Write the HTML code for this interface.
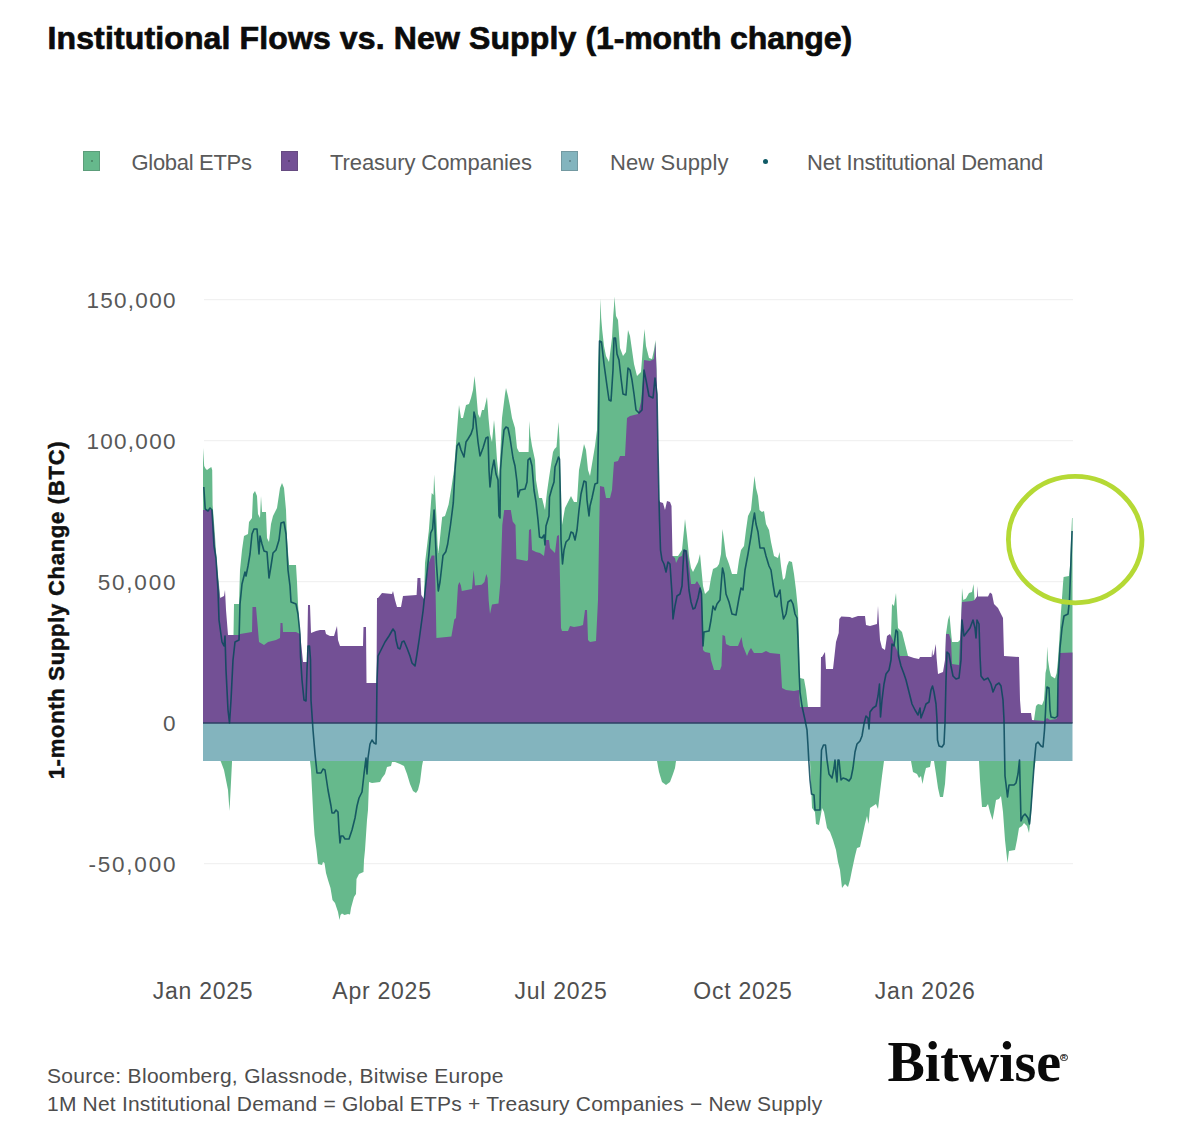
<!DOCTYPE html>
<html><head><meta charset="utf-8">
<style>
html,body{margin:0;padding:0;background:#fff;}
body{width:1200px;height:1125px;position:relative;overflow:hidden;font-family:"Liberation Sans",sans-serif;}
.t{position:absolute;white-space:nowrap;line-height:1;}
.title{left:47.5px;top:22.3px;font-size:32px;font-weight:bold;color:#0b0b0b;letter-spacing:0.05px;-webkit-text-stroke:0.7px #0b0b0b;}
.leg{font-size:22px;color:#5a5a5a;top:151.6px;}
.sq{position:absolute;width:17px;height:20px;top:150.8px;box-sizing:border-box;border:1px solid rgba(60,60,60,0.22);}
.sq i{position:absolute;left:6.5px;top:8px;width:2px;height:2.4px;border-radius:50%;background:rgba(0,0,0,0.28);}
.yl{font-size:22.5px;color:#585858;right:1023.2px;letter-spacing:1.3px;}
.xl{font-size:23px;color:#4f4f4f;top:979.8px;transform:translateX(-50%);letter-spacing:0.75px;}
.ytitle{left:56.8px;top:609.6px;font-size:22px;font-weight:bold;color:#111;transform:translate(-50%,-50%) rotate(-90deg);letter-spacing:0.73px;-webkit-text-stroke:0.5px #111;}
.src{font-size:21px;color:#4d4d4d;left:47px;}
.logo{font-family:"Liberation Serif",serif;font-weight:bold;font-size:56px;left:887.5px;top:1034px;color:#0a0a0a;letter-spacing:-0.1px;}
.reg{position:absolute;left:1060px;top:1053.5px;width:5.5px;height:5.5px;border:1px solid #222;border-radius:50%;font-size:5px;line-height:5.5px;text-align:center;color:#111;font-weight:bold;}
</style></head><body>
<svg width="1200" height="1125" viewBox="0 0 1200 1125" style="position:absolute;left:0;top:0">
<line x1="204" x2="1073" y1="299.7" y2="299.7" stroke="#f1f1f1" stroke-width="1.2"/>
<line x1="204" x2="1073" y1="440.7" y2="440.7" stroke="#f1f1f1" stroke-width="1.2"/>
<line x1="204" x2="1073" y1="581.7" y2="581.7" stroke="#f1f1f1" stroke-width="1.2"/>
<line x1="204" x2="1073" y1="863.7" y2="863.7" stroke="#f1f1f1" stroke-width="1.2"/>
<polygon points="203.0,723.0 203.0,448.0 204.2,466.0 205.5,468.5 207.0,470.0 209.0,468.5 211.3,467.0 212.2,470.0 212.6,505.0 214.6,530.0 216.6,560.0 220.3,598.0 220.3,723.0" fill="#66b98c"/>
<polygon points="233.5,723.0 233.5,635.0 234.0,604.0 239.0,604.0 240.0,570.0 242.0,550.0 244.0,536.0 248.0,534.0 249.0,522.0 252.0,518.0 253.0,494.0 255.0,491.0 257.0,496.0 258.0,514.0 260.0,518.0 261.0,496.0 262.0,512.0 266.0,512.0 267.0,538.0 269.0,542.0 271.0,524.0 273.0,516.0 277.0,508.0 280.0,488.0 282.0,483.0 284.0,488.0 286.0,510.0 287.0,538.0 289.0,565.0 296.0,565.0 297.0,582.0 298.0,604.0 300.0,634.0 300.0,723.0" fill="#66b98c"/>
<polygon points="424.0,723.0 424.0,599.0 425.0,563.0 428.8,531.0 430.7,506.5 431.7,493.0 433.5,495.0 434.1,474.5 434.9,487.7 436.4,516.0 437.6,545.0 438.3,553.0 439.3,545.0 441.0,528.0 442.2,517.0 445.0,516.0 448.6,504.6 451.4,487.7 454.0,470.0 457.0,430.0 459.0,405.0 461.0,418.0 463.0,418.0 466.0,405.0 469.0,404.0 471.0,398.0 473.0,390.0 474.5,376.0 476.0,390.0 478.0,414.0 480.0,418.0 482.0,410.0 484.0,410.0 487.0,397.0 488.5,418.0 490.0,434.0 492.0,442.0 494.0,420.0 495.0,430.0 497.0,460.0 499.0,478.0 500.0,460.0 502.0,418.0 505.0,394.0 506.0,388.0 508.0,396.0 510.0,406.0 512.0,418.0 515.0,428.0 517.0,448.0 519.0,452.0 526.0,452.0 528.6,452.0 529.4,421.0 530.4,436.0 532.0,446.0 535.0,460.0 536.0,480.0 539.0,498.0 542.0,498.0 545.0,510.0 547.0,492.0 549.0,478.0 551.0,465.0 553.0,452.0 554.5,449.0 556.5,447.0 557.5,435.0 558.5,422.0 559.5,440.0 560.3,470.0 561.0,490.0 562.0,525.0 565.0,508.0 566.0,506.0 571.0,496.0 574.0,502.0 577.0,502.0 579.0,470.0 581.0,460.0 584.0,444.0 586.0,450.0 588.0,470.0 590.0,476.0 592.0,464.0 595.0,446.0 597.0,430.0 598.0,370.0 599.3,335.0 600.0,318.0 600.5,298.5 601.2,318.0 602.2,330.0 604.0,346.0 606.0,356.0 609.0,362.0 612.0,338.0 613.3,315.0 614.0,306.0 614.5,296.5 615.2,306.0 616.0,316.0 618.0,320.0 620.0,348.0 623.0,356.0 626.0,352.0 628.0,330.0 630.0,336.0 632.0,350.0 634.0,364.0 637.0,376.0 641.0,372.0 643.0,346.0 644.5,329.0 646.0,346.0 649.0,358.0 652.0,359.0 654.0,350.0 655.5,340.0 656.5,370.0 656.5,723.0" fill="#66b98c"/>
<polygon points="672.0,723.0 672.0,556.0 678.0,556.0 682.0,550.0 684.0,530.0 685.0,519.0 687.0,536.0 689.0,556.0 691.0,568.0 693.0,572.0 696.0,566.0 698.0,562.0 700.0,554.0 701.5,570.0 703.0,586.0 705.0,594.0 709.0,590.0 711.0,578.0 713.0,569.0 717.0,567.0 719.0,564.0 721.0,554.0 722.5,529.0 724.0,540.0 726.0,556.0 729.0,564.0 732.0,574.0 737.0,574.0 739.0,560.0 741.0,550.0 744.0,546.0 746.0,530.0 748.0,516.0 751.0,510.0 753.0,490.0 754.5,476.0 756.0,488.0 758.0,496.0 759.5,510.0 762.0,512.0 764.0,511.0 766.0,524.0 769.0,530.0 771.0,542.0 774.0,556.0 778.0,558.0 779.5,552.0 781.0,566.0 783.0,580.0 785.0,578.0 787.0,566.0 789.0,561.0 792.0,562.0 794.0,574.0 796.0,590.0 798.0,610.0 799.0,640.0 800.0,678.0 804.0,679.0 806.0,690.0 808.0,707.0 808.0,723.0" fill="#66b98c"/>
<polygon points="891.0,723.0 891.0,636.0 892.0,604.0 894.0,606.0 896.0,593.0 898.0,628.0 902.0,632.0 905.0,644.0 908.0,656.0 908.0,723.0" fill="#66b98c"/>
<polygon points="945.5,723.0 945.5,660.0 946.0,634.0 948.0,620.0 949.5,615.0 951.0,632.0 952.0,642.0 958.0,642.0 960.0,640.0 960.0,723.0" fill="#66b98c"/>
<polygon points="961.5,723.0 961.5,610.0 962.0,588.0 963.3,600.0 966.0,598.5 969.0,593.0 972.0,592.0 973.5,584.0 974.6,600.0 974.6,723.0" fill="#66b98c"/>
<polygon points="1034.0,723.0 1034.0,720.0 1036.0,706.0 1038.0,704.0 1042.0,705.0 1044.0,700.0 1044.7,690.0 1045.5,673.0 1046.5,668.0 1047.2,646.5 1048.0,660.0 1049.5,670.0 1051.0,676.0 1055.0,678.5 1056.7,673.0 1058.0,660.0 1059.3,640.0 1060.7,616.0 1062.0,598.0 1063.0,584.0 1063.6,577.0 1069.0,576.0 1070.0,566.0 1071.0,540.0 1072.0,518.0 1072.5,518.0 1072.5,723.0" fill="#66b98c"/>
<polygon points="203.0,723.0 203.0,510.0 212.0,510.0 214.0,530.0 216.0,560.0 220.0,598.0 224.0,596.0 225.0,590.0 226.0,610.0 228.0,635.0 239.0,635.0 240.0,634.0 252.0,632.0 252.5,607.0 256.0,607.0 258.0,630.0 259.0,642.0 264.0,645.0 268.0,642.0 276.0,640.0 280.0,638.0 280.5,623.0 282.5,623.0 283.0,632.0 296.0,632.0 300.0,634.0 301.0,642.0 303.0,662.0 307.0,662.0 308.0,605.0 310.0,605.0 311.0,633.0 316.0,631.0 320.0,630.0 325.0,630.0 326.0,634.0 330.0,636.0 334.0,636.0 337.0,626.0 338.0,640.0 340.0,646.0 363.0,646.0 363.5,627.0 366.0,627.0 366.5,683.0 376.5,683.0 377.0,598.0 378.0,598.0 382.0,593.0 392.0,594.0 393.0,591.0 395.0,600.0 397.0,607.0 401.0,607.0 403.0,596.0 416.6,595.0 417.5,578.0 420.4,578.0 421.3,595.0 424.0,599.0 426.0,582.0 428.8,563.0 431.7,555.5 434.5,555.5 435.4,582.0 436.4,638.0 451.4,636.5 454.3,619.6 456.0,618.0 458.0,585.6 459.4,582.0 460.9,585.6 461.8,591.0 472.0,589.0 473.7,570.0 475.0,585.6 481.6,584.7 484.4,582.0 486.3,574.0 487.6,578.0 488.7,600.7 490.0,614.0 492.0,604.5 498.5,603.5 500.4,582.0 502.3,525.0 504.2,510.0 510.8,510.0 512.7,521.6 515.5,525.0 516.4,559.0 526.8,561.0 528.0,560.0 529.0,530.0 531.0,529.0 532.0,550.0 536.0,552.0 540.0,553.0 544.0,556.0 546.0,540.0 549.0,540.0 550.0,548.0 555.0,553.0 557.0,536.0 559.0,535.0 560.0,580.0 561.0,628.0 562.0,631.0 568.0,631.0 570.0,626.0 574.0,627.0 580.0,626.0 583.0,625.0 585.0,610.0 587.0,610.0 588.0,640.0 590.0,642.0 596.0,641.0 598.0,600.0 599.0,540.0 600.0,486.0 604.0,487.0 606.0,498.0 610.0,498.0 612.0,490.0 614.0,462.0 618.0,461.0 620.0,456.0 625.0,456.0 627.0,418.0 630.0,416.0 638.0,414.0 641.0,402.0 643.0,380.0 644.0,360.0 650.0,361.0 654.0,359.0 655.5,342.0 656.5,370.0 657.0,390.0 658.0,450.0 659.0,500.0 660.0,502.0 663.0,503.0 665.0,510.0 667.0,501.0 670.0,502.0 671.5,506.0 672.5,556.0 675.0,558.0 676.0,563.0 679.0,557.0 682.0,556.0 683.0,550.0 687.0,550.0 689.0,564.0 691.0,584.0 695.0,584.0 697.0,581.0 700.0,586.0 702.0,592.0 703.0,650.0 705.0,652.0 710.0,653.0 711.0,660.0 714.0,670.0 720.0,670.0 721.5,666.0 722.5,635.0 725.0,636.0 726.0,644.0 730.0,646.0 738.0,646.0 740.0,641.0 741.5,637.0 743.0,646.0 747.0,656.0 749.0,651.0 751.0,648.0 754.0,653.0 762.0,653.0 766.0,651.0 770.0,653.0 780.0,654.0 781.0,670.0 782.0,688.0 786.0,690.0 794.0,691.0 799.0,690.0 800.0,707.0 820.5,707.0 821.0,657.0 822.0,657.0 825.0,652.0 826.0,669.0 833.0,669.0 833.8,662.0 836.0,642.0 838.7,633.0 839.3,619.0 841.3,616.5 850.0,617.0 852.0,618.0 858.0,616.0 865.0,616.0 866.0,625.0 870.0,626.0 877.0,624.0 878.0,606.0 879.0,624.0 880.0,640.0 882.0,648.0 885.0,650.0 887.0,636.0 890.0,634.0 892.0,638.0 896.0,648.0 900.0,656.0 908.0,656.0 914.0,658.0 919.0,659.0 920.0,657.0 931.0,657.0 931.6,657.0 932.2,649.0 932.8,656.0 934.0,654.0 935.0,648.0 935.8,644.0 936.6,658.0 938.0,674.0 943.0,672.0 945.0,660.0 946.0,634.0 949.0,634.0 951.0,640.0 952.0,664.0 959.0,665.0 960.0,640.0 961.0,620.0 962.0,602.0 972.0,601.0 974.5,600.0 976.5,597.0 977.0,596.5 977.5,586.0 978.0,596.5 988.0,596.5 990.0,592.5 992.0,594.0 994.0,604.0 998.0,608.0 1001.0,614.0 1003.0,618.0 1004.0,656.0 1019.0,657.0 1020.0,700.0 1021.0,713.0 1031.0,713.0 1032.0,720.0 1044.0,721.0 1047.0,718.0 1050.0,720.0 1056.5,719.0 1057.5,700.0 1058.7,675.0 1060.0,653.0 1072.5,652.5 1072.5,723.0" fill="#735095"/>
<polygon points="220.5,760.0 220.5,761.0 221.0,762.0 224.0,770.0 228.0,790.0 229.5,811.0 231.0,782.0 232.0,762.0 232.0,760.0" fill="#66b98c"/>
<polygon points="310.0,760.0 310.0,761.0 311.0,770.0 313.0,810.0 313.5,820.0 314.5,835.0 316.5,850.0 318.0,864.0 322.0,865.0 323.0,862.0 324.5,863.0 326.0,873.0 328.0,880.0 330.5,888.0 332.5,900.0 335.0,903.0 338.0,912.0 339.5,920.0 340.5,915.0 342.0,913.5 344.5,915.0 348.0,914.0 350.0,914.5 351.0,908.0 354.0,897.0 356.0,894.0 356.5,879.0 359.0,874.0 363.5,872.0 364.0,860.0 365.0,850.0 366.0,835.0 367.0,820.0 368.0,810.0 369.0,782.0 372.0,783.0 380.0,782.0 382.0,778.0 385.0,774.0 387.0,767.0 391.0,766.0 392.0,762.0 395.0,762.0 400.0,764.0 404.0,766.0 407.0,774.0 410.0,784.0 413.0,791.0 416.0,793.0 418.0,790.0 420.0,782.0 422.0,766.0 423.0,761.0 423.0,760.0" fill="#66b98c"/>
<polygon points="657.0,760.0 657.0,761.0 659.0,772.0 662.0,782.0 666.0,785.0 670.0,782.0 673.0,774.0 675.0,768.0 676.0,761.0 676.0,760.0" fill="#66b98c"/>
<polygon points="810.0,760.0 810.0,761.0 811.0,784.0 812.0,808.0 815.0,812.0 816.0,824.0 819.0,825.0 821.0,814.0 822.0,808.0 824.0,812.0 827.0,828.0 830.0,832.0 833.0,840.0 836.0,850.0 838.0,862.0 840.0,870.0 842.0,888.0 845.0,884.0 848.0,887.0 850.0,880.0 852.0,870.0 855.0,856.0 857.0,848.0 860.0,847.0 862.0,838.0 865.0,824.0 867.0,816.0 868.5,824.0 870.0,808.0 876.0,804.0 878.0,809.0 880.0,792.0 882.0,776.0 884.0,761.0 884.0,760.0" fill="#66b98c"/>
<polygon points="911.0,760.0 911.0,761.0 913.0,772.0 917.0,774.0 919.0,778.0 921.0,776.0 922.5,784.0 924.0,776.0 926.0,768.0 930.0,767.0 931.0,761.0 931.0,760.0" fill="#66b98c"/>
<polygon points="934.0,760.0 934.0,761.0 936.0,774.0 938.0,788.0 940.0,797.0 943.0,797.0 945.0,784.0 946.5,762.0 946.5,760.0" fill="#66b98c"/>
<polygon points="979.0,760.0 979.0,761.0 980.0,780.0 982.0,807.0 986.0,807.0 988.0,804.0 990.0,812.0 992.5,820.0 994.0,812.0 996.0,800.0 999.0,799.0 1001.0,796.0 1003.0,812.0 1005.0,840.0 1007.5,863.0 1009.0,851.0 1015.0,850.0 1017.0,840.0 1019.0,828.0 1022.0,826.0 1024.0,823.0 1027.0,826.0 1029.0,833.0 1031.0,816.0 1032.0,800.0 1034.0,770.0 1035.5,761.0 1035.5,760.0" fill="#66b98c"/>
<rect x="203.0" y="723.0" width="869.5" height="38.0" fill="#83b4be"/>
<line x1="203.0" x2="1072.5" y1="723.0" y2="723.0" stroke="#2b3f63" stroke-width="1.4"/>
<polyline points="203.8,487.0 205.2,509.0 208.0,511.0 210.0,508.0 212.0,510.0 214.0,546.0 216.0,558.0 218.0,590.0 219.0,620.0 222.0,642.0 224.0,646.0 225.0,636.0 226.0,670.0 228.0,710.0 229.5,723.0 231.0,700.0 233.0,660.0 235.0,642.0 239.0,640.0 240.0,604.0 242.0,584.0 245.0,572.0 246.0,576.0 248.0,566.0 250.0,554.0 252.0,534.0 254.0,529.0 257.0,529.0 259.0,554.0 260.0,536.0 262.0,544.0 264.0,551.0 267.0,552.0 269.0,578.0 271.0,566.0 273.0,553.0 276.0,550.0 279.0,540.0 281.0,523.0 284.0,522.0 286.0,534.0 288.0,570.0 290.0,586.0 291.0,602.0 296.0,604.0 298.0,614.0 300.0,634.0 300.5,656.0 302.0,680.0 304.0,700.0 306.0,701.0 307.0,670.0 308.0,646.0 309.5,646.0 310.5,660.0 311.0,700.0 313.0,730.0 315.0,754.0 317.0,773.0 321.0,773.0 323.0,769.0 325.0,770.0 328.0,790.0 331.0,806.0 332.0,813.0 334.0,813.0 336.0,810.0 338.0,812.0 339.0,830.0 340.0,843.0 341.0,836.0 343.0,836.0 345.0,839.0 349.0,839.0 352.0,830.0 355.0,818.0 357.0,806.0 359.0,798.0 362.0,792.0 364.0,774.0 366.0,758.0 367.0,774.0 368.0,758.0 370.0,744.0 372.0,740.0 374.0,743.0 376.0,744.0 376.5,723.0 377.0,680.0 378.0,656.0 381.0,650.0 385.0,642.0 389.0,636.0 393.0,629.0 395.0,632.0 396.0,640.0 398.0,648.0 400.0,649.0 402.0,642.0 404.0,641.0 407.0,648.0 410.0,656.0 412.0,663.0 415.0,666.0 417.0,654.0 419.4,638.0 423.2,610.0 426.0,582.0 428.8,555.5 430.7,533.0 432.6,529.0 434.1,510.0 434.9,525.0 436.4,563.0 438.3,591.0 440.0,582.0 443.0,555.5 445.8,551.7 447.7,544.0 450.5,525.0 453.3,502.7 455.0,470.0 457.0,446.0 459.0,443.0 461.0,450.0 464.0,457.0 466.0,442.0 468.0,439.0 471.0,434.0 473.0,428.0 474.0,412.0 475.5,418.0 478.0,442.0 480.0,456.0 483.0,448.0 486.0,438.0 488.0,437.0 489.0,470.0 490.0,487.0 492.0,470.0 494.0,460.0 496.0,474.0 498.0,480.0 499.0,516.0 500.0,518.0 500.5,470.0 502.0,450.0 504.0,430.0 506.0,427.0 508.0,428.0 510.0,438.0 513.0,458.0 515.0,466.0 517.0,482.0 518.0,497.0 520.0,490.0 525.0,489.0 527.0,482.0 528.0,460.0 530.0,458.0 532.0,466.0 534.0,490.0 536.0,502.0 538.0,520.0 539.5,537.0 542.0,538.0 544.0,535.0 545.0,545.0 546.0,526.0 549.0,516.0 549.5,497.0 552.0,488.0 554.0,482.0 555.0,467.0 556.5,463.0 558.5,457.0 559.5,459.0 560.2,490.0 561.0,540.0 562.5,564.0 564.0,550.0 566.0,542.0 569.0,539.0 571.0,532.0 573.0,533.0 575.0,540.0 577.0,530.0 579.0,510.0 581.0,494.0 584.0,481.0 586.0,482.0 587.0,500.0 589.0,516.0 590.0,506.0 592.0,498.0 595.0,484.0 597.5,483.0 598.5,430.0 599.5,341.0 601.5,342.0 604.0,364.0 607.0,386.0 609.0,400.0 611.0,401.0 613.0,370.0 614.0,338.0 615.5,338.0 617.0,354.0 619.0,360.0 621.0,378.0 623.0,394.0 626.0,395.0 628.0,368.0 630.0,370.0 632.0,380.0 634.0,394.0 636.0,410.0 639.0,413.0 642.0,410.0 644.0,370.0 646.0,380.0 649.0,396.0 653.0,398.0 655.0,378.0 657.0,394.0 658.0,450.0 659.0,500.0 659.5,520.0 660.5,550.0 662.0,560.0 664.0,564.0 666.0,572.0 668.0,562.0 670.0,564.0 672.0,594.0 673.0,619.0 675.0,606.0 677.0,596.0 680.0,594.0 682.0,586.0 683.0,566.0 684.0,550.0 686.0,551.0 687.0,564.0 689.0,590.0 691.0,602.0 693.0,609.0 695.0,608.0 698.0,598.0 700.0,588.0 701.5,594.0 703.0,646.0 704.0,632.0 709.0,631.0 711.0,620.0 713.0,606.0 715.0,610.0 717.0,604.0 720.0,600.0 721.5,580.0 722.5,568.0 724.0,574.0 726.0,594.0 729.0,602.0 732.0,614.0 736.0,615.0 739.0,598.0 741.0,588.0 743.0,590.0 745.0,570.0 748.0,554.0 751.0,536.0 753.0,522.0 754.5,513.0 756.0,524.0 758.0,532.0 760.0,548.0 764.0,548.0 766.0,556.0 769.0,566.0 771.0,570.0 773.0,584.0 775.0,596.0 777.0,597.0 780.0,590.0 781.5,606.0 783.5,619.0 786.0,614.0 788.0,602.0 791.0,600.0 793.0,604.0 795.0,614.0 797.0,618.0 798.0,640.0 799.0,670.0 800.0,692.0 802.0,706.0 805.0,720.0 807.0,730.0 808.0,746.0 809.0,764.0 810.0,780.0 811.5,794.0 814.0,795.0 815.0,810.0 820.0,810.0 820.5,780.0 821.5,750.0 823.5,745.0 825.5,745.0 827.0,760.0 829.0,774.0 832.0,778.0 834.0,768.0 835.0,760.0 836.0,774.0 837.0,782.0 838.0,760.0 839.0,760.0 840.0,770.0 841.0,780.0 843.0,778.0 846.0,779.0 849.0,781.0 851.0,778.0 853.0,768.0 855.0,752.0 857.0,744.0 860.0,741.0 862.0,736.0 864.0,724.0 866.0,716.0 868.0,718.0 869.0,729.0 870.0,712.0 873.0,708.0 876.0,706.0 878.0,696.0 879.5,684.0 880.5,717.0 882.0,700.0 884.0,684.0 886.0,674.0 889.0,670.0 891.0,660.0 892.0,644.0 894.0,646.0 896.0,630.0 897.5,632.0 898.5,656.0 901.0,666.0 904.0,674.0 906.0,680.0 909.0,692.0 912.0,704.0 915.0,710.0 918.0,715.0 920.0,708.0 921.0,718.0 924.0,710.0 926.0,704.0 929.0,702.0 931.0,690.0 932.5,686.0 934.0,692.0 936.0,704.0 937.0,720.0 937.5,740.0 939.0,746.0 942.0,747.0 944.0,744.0 945.0,723.0 946.0,680.0 947.0,652.0 949.0,654.0 951.0,666.0 953.0,676.0 956.0,679.0 959.0,678.0 961.0,660.0 962.0,620.0 964.0,636.0 967.0,632.0 970.0,628.0 973.0,620.0 975.0,628.0 976.0,638.0 977.0,620.0 979.0,624.0 980.0,656.0 981.0,676.0 984.0,680.0 988.0,678.0 991.0,684.0 993.0,692.0 996.0,685.0 999.0,683.0 1001.0,686.0 1003.0,700.0 1004.0,720.0 1004.5,750.0 1005.0,776.0 1006.0,784.0 1007.5,797.0 1009.0,785.0 1014.0,785.0 1016.0,783.0 1018.0,774.0 1019.5,760.0 1020.0,780.0 1021.0,821.0 1023.0,816.0 1025.0,814.0 1028.0,818.0 1029.5,824.0 1031.0,808.0 1033.0,780.0 1034.5,760.0 1036.0,744.0 1038.0,742.0 1041.0,746.0 1043.0,747.0 1044.5,730.0 1045.5,712.0 1046.0,700.0 1047.0,687.0 1049.0,688.0 1050.0,710.0 1051.0,717.0 1055.0,718.0 1057.5,716.0 1058.0,680.0 1060.0,648.0 1062.0,628.0 1064.0,616.0 1068.0,614.0 1069.5,600.0 1071.0,560.0 1072.1,531.0" fill="none" stroke="#08485a" stroke-opacity="0.85" stroke-width="1.6" stroke-linejoin="round"/>
<ellipse cx="1075.2" cy="539.6" rx="66.8" ry="63.2" fill="none" stroke="#b5d935" stroke-width="4.8"/>
</svg>
<div class="t title"><span style="letter-spacing:0.13px">Institutional Flows vs. New Supply </span><span style="letter-spacing:-0.12px">(1-month change)</span></div>

<div class="sq" style="left:83px;background:#66b98c"><i></i></div>
<div class="t leg" style="left:131.5px;letter-spacing:-0.3px">Global ETPs</div>
<div class="sq" style="left:280.7px;background:#735095"><i></i></div>
<div class="t leg" style="left:330px;letter-spacing:-0.08px">Treasury Companies</div>
<div class="sq" style="left:561.3px;background:#83b4be"><i></i></div>
<div class="t leg" style="left:610px;letter-spacing:0.12px">New Supply</div>
<div style="position:absolute;left:763px;top:159px;width:5px;height:5px;border-radius:50%;background:#0f5a66"></div>
<div class="t leg" style="left:807px;letter-spacing:-0.2px">Net Institutional Demand</div>

<div class="t yl" style="top:290.1px">150,000</div>
<div class="t yl" style="top:431.1px">100,000</div>
<div class="t yl" style="top:572.1px;letter-spacing:1.8px;right:1022.7px">50,000</div>
<div class="t yl" style="top:713.1px">0</div>
<div class="t yl" style="top:854.1px;letter-spacing:1.8px;right:1022.7px">-50,000</div>
<div class="t ytitle">1-month Supply Change (BTC)</div>

<div class="t xl" style="left:203px">Jan 2025</div>
<div class="t xl" style="left:382px">Apr 2025</div>
<div class="t xl" style="left:561px">Jul 2025</div>
<div class="t xl" style="left:743px">Oct 2025</div>
<div class="t xl" style="left:925.2px">Jan 2026</div>

<div class="t src" style="top:1064.6px;letter-spacing:0.3px">Source: Bloomberg, Glassnode, Bitwise Europe</div>
<div class="t src" style="top:1092.7px;letter-spacing:0.2px">1M Net Institutional Demand = Global ETPs + Treasury Companies − New Supply</div>
<div class="t logo">Bitwise</div>
<div class="reg">R</div>
</body></html>
